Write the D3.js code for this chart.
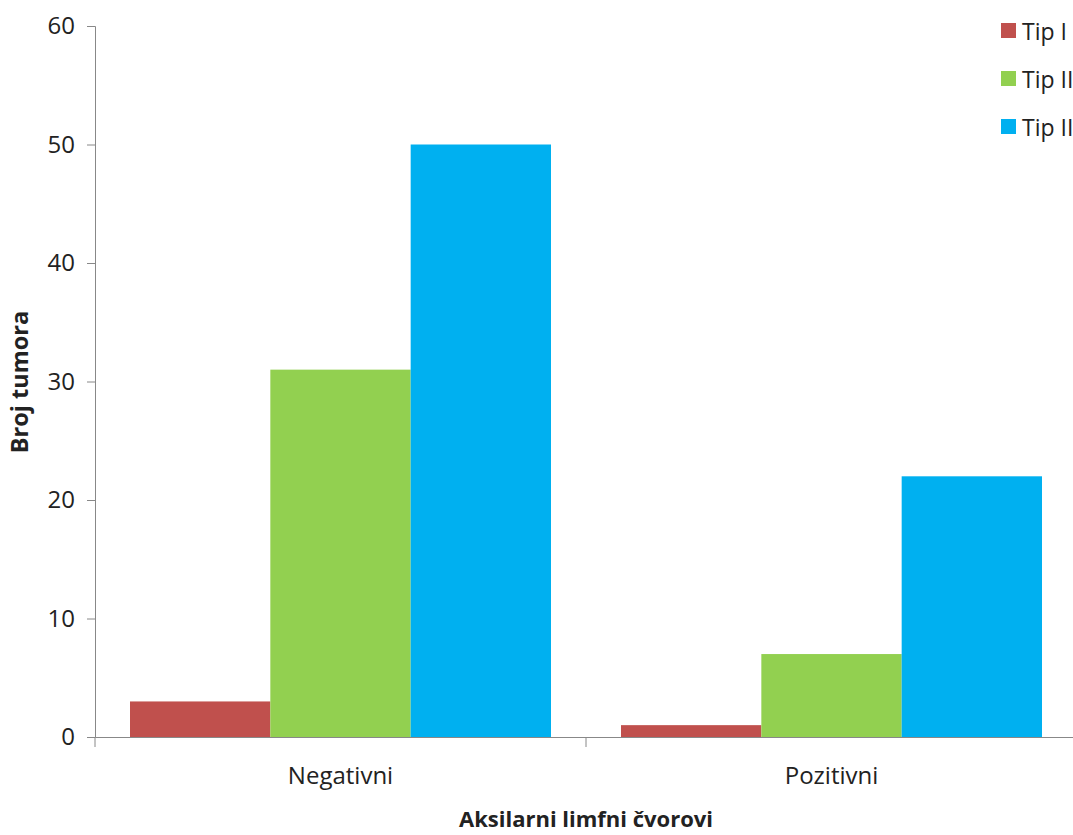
<!DOCTYPE html>
<html><head><meta charset="utf-8">
<script src="https://cdn.jsdelivr.net/npm/d3@7"></script>
<style>body{margin:0;background:#fff;overflow:hidden}svg{display:block}text{font-family:"Open Sans",sans-serif;fill:#222}</style>
</head><body><svg id="c" width="1073" height="835"></svg>
<script>
const categories = ["Negativni", "Pozitivni"];
const seriesNames = ["Tip I", "Tip II", "Tip III"];
const tipI = [3, 1];
const tipII = [31, 7];
const tipIII = [50, 22];
const yTicks = [0, 10, 20, 30, 40, 50, 60];
const colors = ["#c0504d", "#92d050", "#00b0f0"];
const seriesValues = [tipI, tipII, tipIII];

(function(){
const svg = d3.select("#c");
const mLeft = 95, mRight = 1077, mTop = 26, mBottom = 737;
const x = d3.scaleBand().domain(categories).range([mLeft, mRight]).paddingInner(0).paddingOuter(0);
const inner = d3.scaleBand().domain(seriesNames).range([35, x.bandwidth() - 35]).padding(0);
const y = d3.scaleLinear().domain([0, 60]).range([mBottom, mTop]);

const g = svg.append("g");
categories.forEach((c, ci) => {
  seriesNames.forEach((s, si) => {
    const v = seriesValues[si][ci];
    g.append("rect").attr("x", x(c) + inner(s)).attr("width", inner.bandwidth())
      .attr("y", y(v)).attr("height", y(0) - y(v)).attr("fill", colors[si]);
  });
});

const ya = svg.append("g").attr("transform", `translate(${mLeft},0)`)
  .call(d3.axisLeft(y).tickValues(yTicks).tickSize(8).tickPadding(12));
ya.select(".domain").attr("stroke", "#888");
ya.selectAll(".tick line").attr("stroke", "#888");
ya.selectAll("text").attr("font-size", 24).attr("font-family", "Open Sans").attr("fill", "#222");

const xa = svg.append("g").attr("transform", `translate(0,${mBottom})`)
  .call(d3.axisBottom(x).tickSize(0).tickPadding(30));
xa.select(".domain").attr("stroke", "#888");
xa.selectAll("text").attr("font-size", 24).attr("font-family", "Open Sans").attr("fill", "#222");
const bounds = [mLeft, x(categories[1])];
svg.selectAll(".bt").data(bounds).enter().append("line")
  .attr("x1", d => d).attr("x2", d => d).attr("y1", mBottom).attr("y2", mBottom + 10).attr("stroke", "#888");

svg.append("text").attr("transform", `translate(28,382) rotate(-90)`).attr("text-anchor", "middle")
  .attr("font-size", 23.5).attr("font-weight", "bold").text("Broj tumora");
svg.append("text").attr("x", 586).attr("y", 827).attr("text-anchor", "middle")
  .attr("font-size", 22).attr("font-weight", "bold").text("Aksilarni limfni čvorovi");

const lg = svg.append("g");
seriesNames.forEach((s, i) => {
  const yy = 23 + i * 48;
  lg.append("rect").attr("x", 1001).attr("y", yy).attr("width", 15).attr("height", 15).attr("fill", colors[i]);
  lg.append("text").attr("x", 1022).attr("y", yy + 17).attr("font-size", 23).text(s);
});
})();
</script></body></html>
